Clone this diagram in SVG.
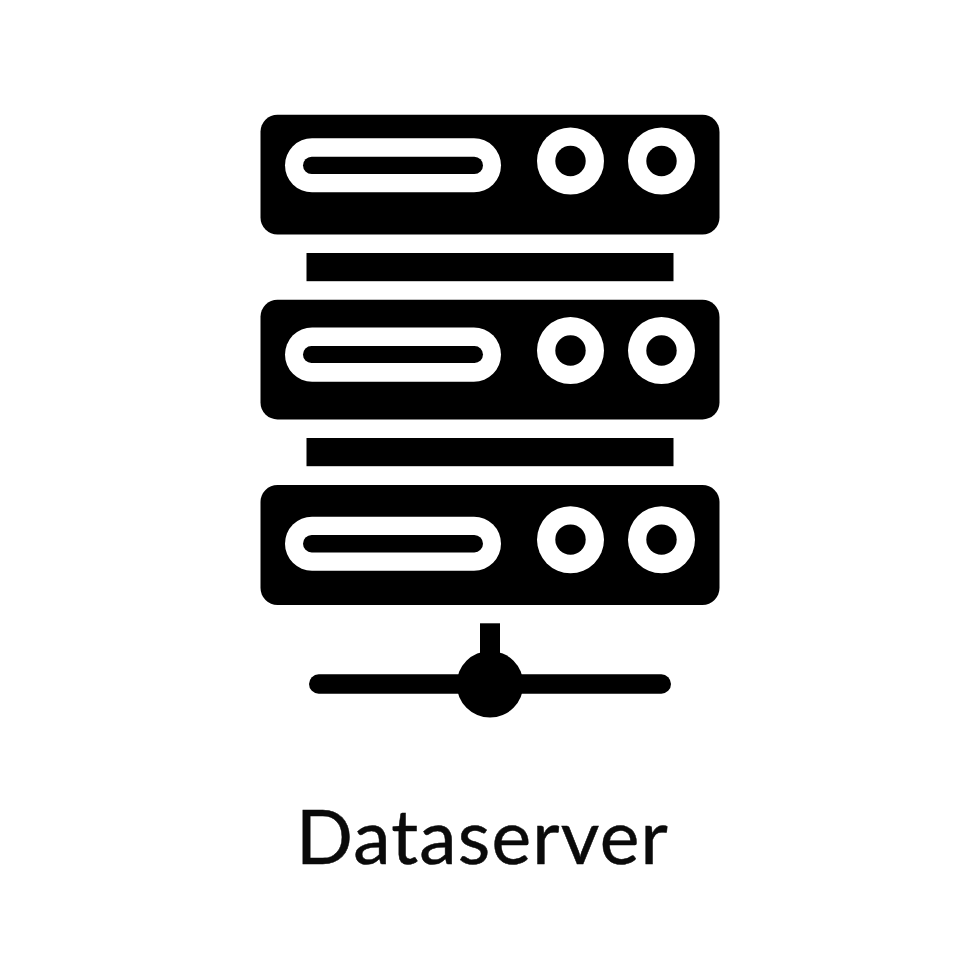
<svg xmlns="http://www.w3.org/2000/svg" width="980" height="980" viewBox="0 0 980 980">
<style>
.k{fill:#000}
.w{fill:#fff}
text{font-family:"Lato","Open Sans",sans-serif;font-size:75px;letter-spacing:1.2px;fill:#0a0a0a;stroke:#0a0a0a;stroke-width:.5px}
</style>
<rect class="w" width="980" height="980"/>
<g id="server-1">
<rect class="k" x="260.500" y="114.700" width="459" height="119.800" rx="17"/>
<rect class="w" x="285" y="138.300" width="216" height="54" rx="27"/>
<rect class="k" x="303" y="156.700" width="180" height="17.400" rx="8.700"/>
<circle class="w" cx="570.500" cy="161" r="33.500"/>
<circle class="k" cx="570.500" cy="161" r="15.200"/>
<circle class="w" cx="661.500" cy="161" r="33.500"/>
<circle class="k" cx="661.500" cy="161" r="15.200"/>
</g>
<rect id="bar-1" class="k" x="306.500" y="253" width="367" height="28.200"/>
<g id="server-2">
<rect class="k" x="260.500" y="299.700" width="459" height="119.700" rx="17"/>
<rect class="w" x="285" y="327.400" width="216" height="54.300" rx="27.150"/>
<rect class="k" x="303" y="346" width="180" height="17" rx="8.500"/>
<circle class="w" cx="570.500" cy="350.500" r="33.500"/>
<circle class="k" cx="570.500" cy="350.500" r="15.200"/>
<circle class="w" cx="661.500" cy="350.500" r="33.500"/>
<circle class="k" cx="661.500" cy="350.500" r="15.200"/>
</g>
<rect id="bar-2" class="k" x="306.500" y="438" width="367" height="28.200"/>
<g id="server-3">
<rect class="k" x="260.500" y="485" width="459" height="120" rx="17"/>
<rect class="w" x="285" y="516.700" width="216" height="54" rx="27"/>
<rect class="k" x="303" y="535" width="180" height="17.400" rx="8.700"/>
<circle class="w" cx="570.500" cy="539.700" r="33.500"/>
<circle class="k" cx="570.500" cy="539.600" r="15.200"/>
<circle class="w" cx="661.500" cy="539.700" r="33.500"/>
<circle class="k" cx="661.500" cy="539.600" r="15.200"/>
</g>
<g id="network">
<rect class="k" x="480" y="623.300" width="20" height="40"/>
<rect class="k" x="309" y="674.300" width="362" height="19.400" rx="9.700"/>
<circle class="k" cx="490" cy="684.300" r="33.300"/>
</g>
<text id="label" x="296" y="864">Dataserver</text>
</svg>
